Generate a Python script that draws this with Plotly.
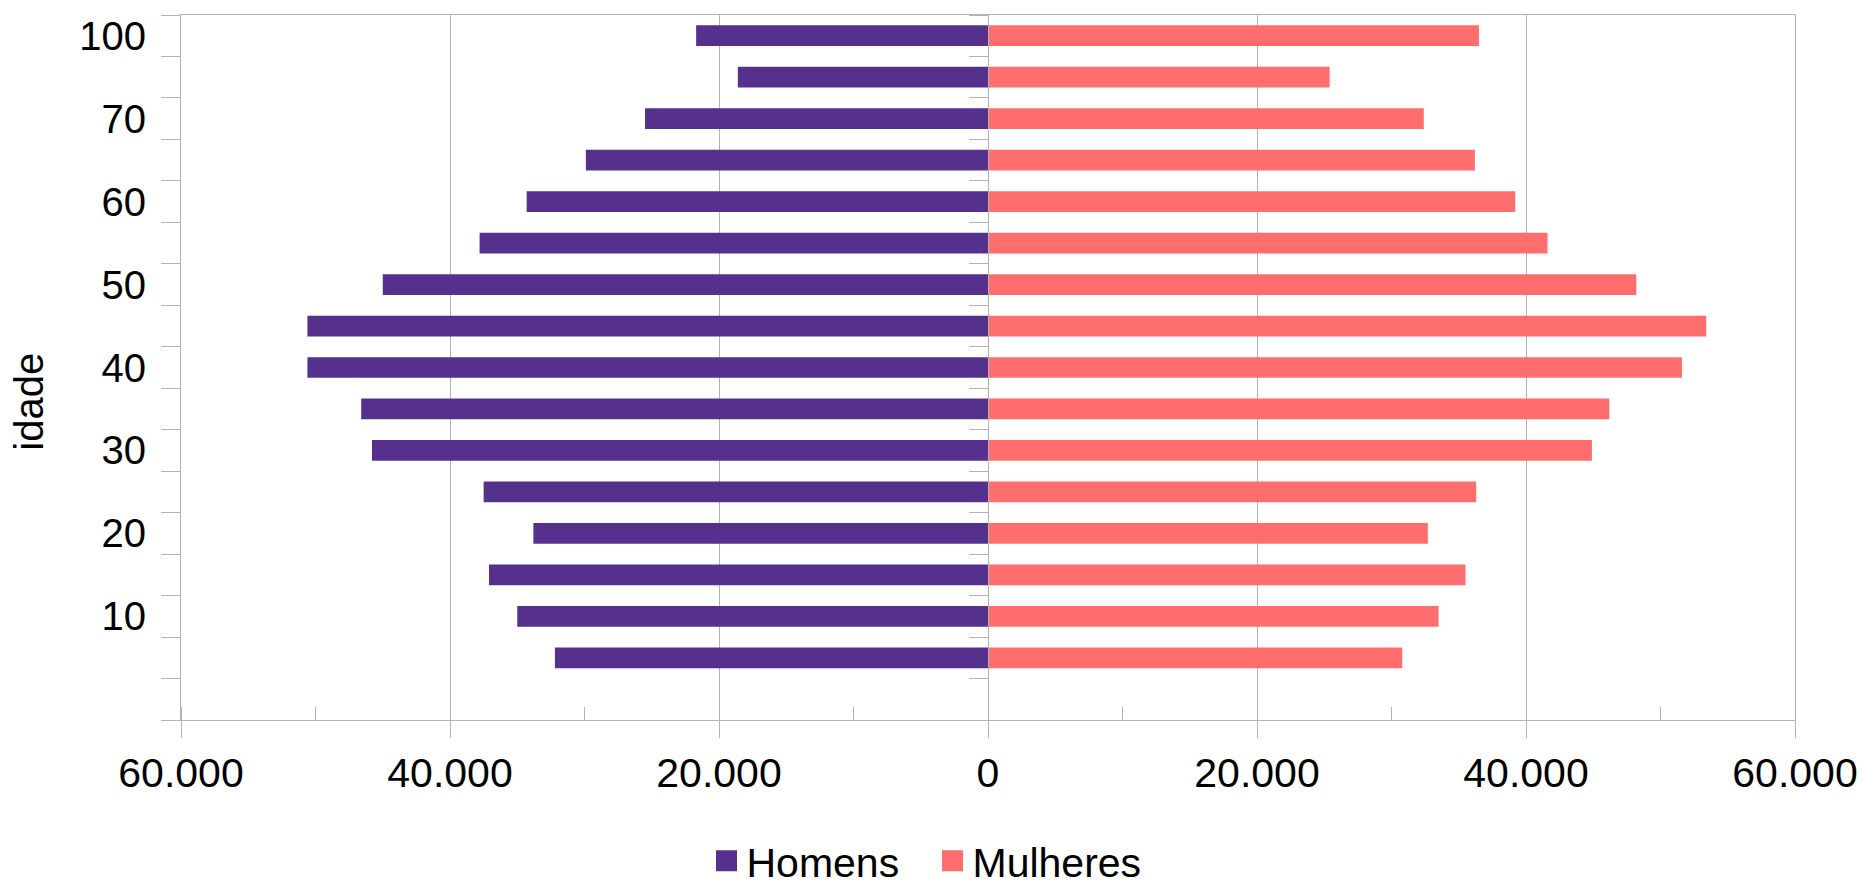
import plotly.graph_objects as go

# Age categories (bottom to top); the first category has no data
ages = ["0", "5", "10", "15", "20", "25", "30", "35", "40", "45",
        "50", "55", "60", "65", "70", "75", "100"]
age_tick_labels = ["", "", "10", "", "20", "", "30", "", "40", "",
                   "50", "", "60", "", "70", "", "100"]

homens = [None, 32200, 35000, 37100, 33800, 37500, 45800, 46600, 50600,
          50600, 45000, 37800, 34300, 29900, 25500, 18600, 21700]
mulheres = [None, 30800, 33500, 35500, 32700, 36300, 44900, 46200, 51600,
            53400, 48200, 41600, 39200, 36200, 32400, 25400, 36500]

x_tick_values = [-60000, -40000, -20000, 0, 20000, 40000, 60000]
x_tick_labels = ["60.000", "40.000", "20.000", "0", "20.000", "40.000", "60.000"]

series_names = ["Homens", "Mulheres"]
colors = ["#55308d", "#ff6d6d"]

FONT = "Liberation Sans, Arial, sans-serif"
GRID = "#b3b3b3"

fig = go.Figure()
fig.add_trace(go.Bar(
    y=ages, x=[-v if v is not None else None for v in homens],
    orientation="h", name=series_names[0], marker_color=colors[0],
    marker_line_width=0, showlegend=False, yaxis="y"))
fig.add_trace(go.Bar(
    y=ages, x=mulheres,
    orientation="h", name=series_names[1], marker_color=colors[1],
    marker_line_width=0, showlegend=False, yaxis="y2"))
# legend proxies (no data drawn)
for name, col in zip(series_names, colors):
    fig.add_trace(go.Scatter(
        x=[None], y=[None], mode="markers", name=name,
        marker=dict(symbol="square", size=16, color=col,
                    line=dict(color=col, width=5)),
        showlegend=True))

yaxis_common = dict(
    type="category", categoryorder="array", categoryarray=ages,
    range=[-0.5, len(ages) - 0.5], tickson="boundaries",
    ticks="outside", ticklen=19, tickcolor=GRID, tickwidth=1,
    showgrid=False, zeroline=False, showline=True, linecolor=GRID, linewidth=1,
)

fig.update_layout(
    width=1870, height=889,
    paper_bgcolor="white", plot_bgcolor="white",
    margin=dict(l=181, r=69, t=15, b=169),
    barmode="overlay", bargap=0.5,
    font=dict(family=FONT, color="black", size=40),
    xaxis=dict(
        range=[-60000, 60000], tickvals=x_tick_values, ticktext=x_tick_labels,
        ticks="outside", ticklen=17, tickcolor=GRID, tickwidth=1,
        minor=dict(dtick=10000, tick0=0, ticks="inside", ticklen=13,
                   tickcolor=GRID, showgrid=False),
        showgrid=True, gridcolor=GRID, gridwidth=1,
        zeroline=False, showline=True, linecolor=GRID, linewidth=1, mirror=True,
        tickfont=dict(size=41, family=FONT, color="black"),
    ),
    yaxis=dict(
        **yaxis_common,
        tickvals=ages, ticktext=age_tick_labels,
        tickfont=dict(size=40, family=FONT, color="black"),
        ticklabelstandoff=26,
        mirror=True,
    ),
    yaxis2=dict(
        **yaxis_common,
        overlaying="y", anchor="free", position=0.5, side="left",
        showticklabels=False,
    ),
    legend=dict(
        orientation="h", xref="container", yref="container",
        x=706.5 / 1870, xanchor="left", y=1 - 861 / 889, yanchor="middle",
        font=dict(size=41, family=FONT, color="black"),
        bgcolor="rgba(0,0,0,0)", borderwidth=0, itemsizing="trace",
        entrywidthmode="pixels", entrywidth=181,
    ),
    annotations=[dict(
        text="idade", textangle=-90, xref="paper", yref="paper",
        x=-0.0944, y=0.451, xanchor="center", yanchor="middle",
        showarrow=False, font=dict(size=40, family=FONT, color="black"),
    )],
)

fig.write_html("out.html")
